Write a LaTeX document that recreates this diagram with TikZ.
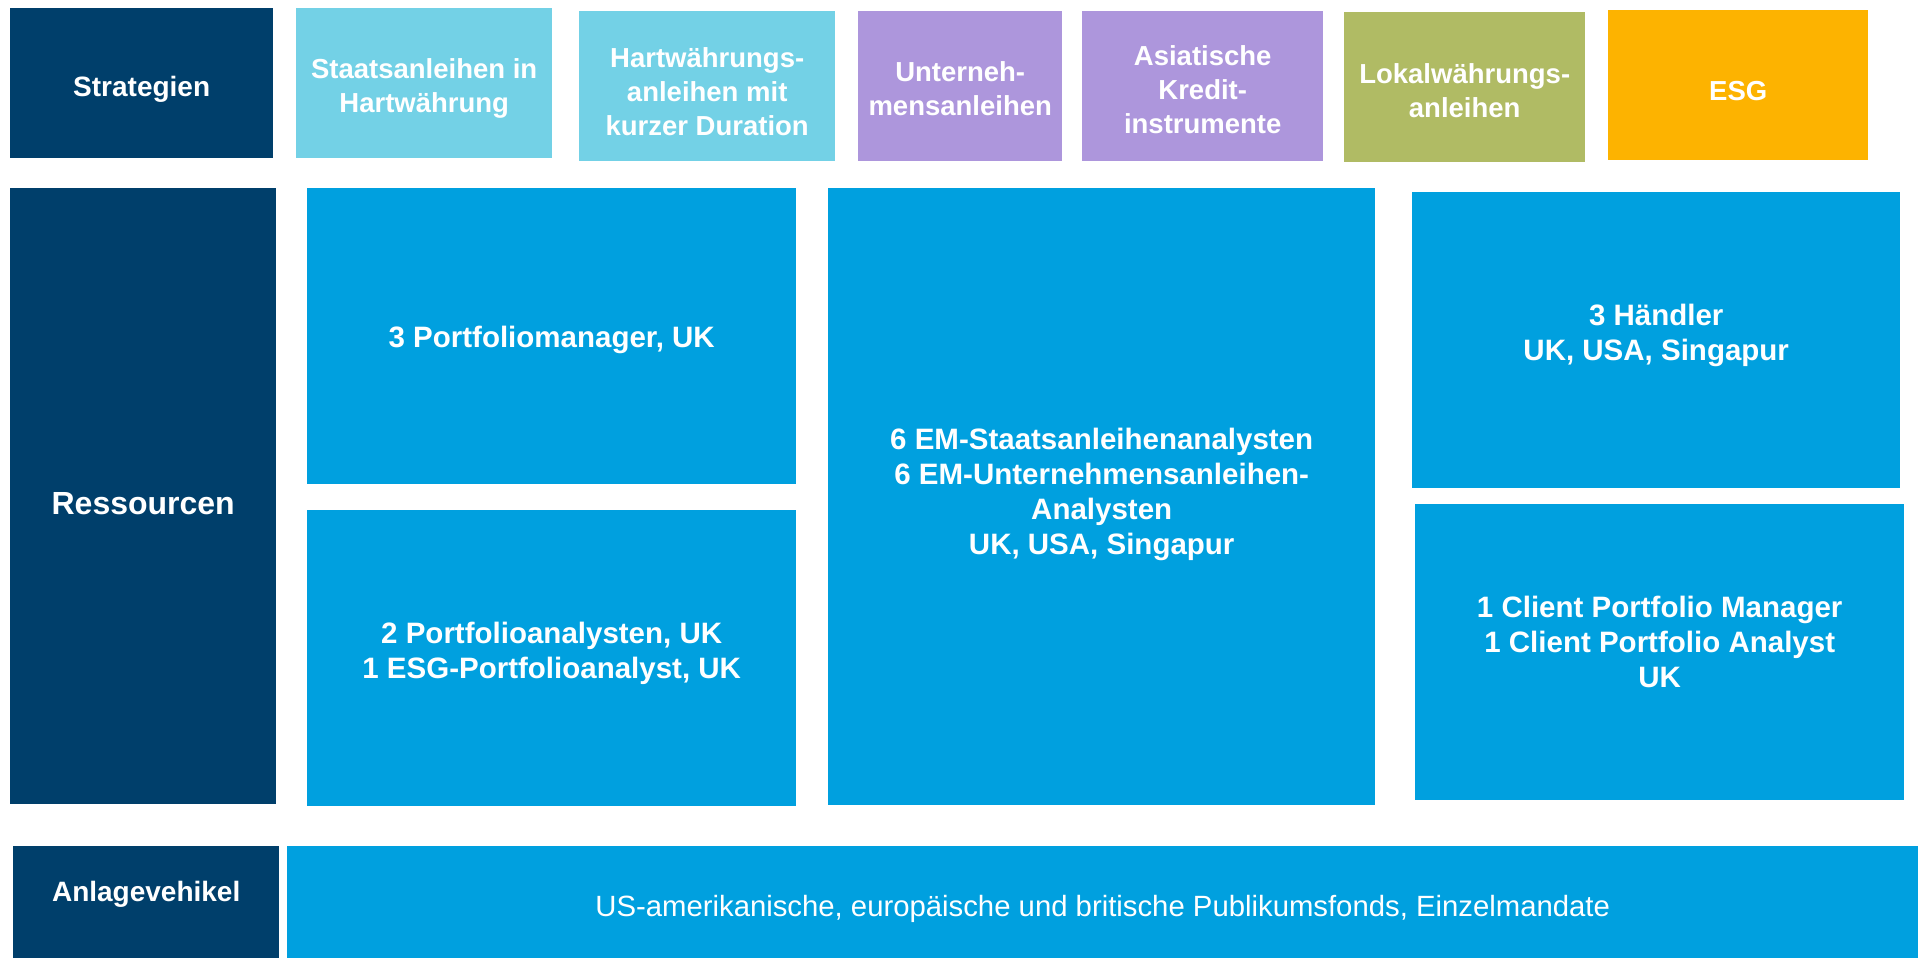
\documentclass[tikz,border=0pt]{standalone}
\usepackage{fontspec}
\setmainfont{Liberation Sans}

\definecolor{navy}{RGB}{0,63,107}
\definecolor{teamblue}{RGB}{0,160,223}
\definecolor{skyblue}{RGB}{115,209,230}
\definecolor{lilac}{RGB}{173,150,220}
\definecolor{olive}{RGB}{176,187,100}
\definecolor{amber}{RGB}{253,179,0}

\tikzset{
    tile/.style={fill=#1, text=white, anchor=north west, inner sep=0pt, align=center,
        font=\fontsize{29.5}{35}\selectfont\bfseries,
        execute at begin node={\rule{0pt}{1.15em}}},
    wh/.style 2 args={minimum width=#1, minimum height=#2}
}

\begin{document}
\begin{tikzpicture}[x=1pt, y=-1pt]
    \useasboundingbox (0, 0) rectangle (1921, 958);

    % row headers
    \node[tile=navy, wh={263pt}{150pt}, font=\fontsize{28}{35}\selectfont\bfseries] (strat) at (10, 8) {Strategien};
    \node[tile=navy, wh={266pt}{616pt}, font=\fontsize{32}{38}\selectfont\bfseries] (res) at (10, 188) {Ressourcen};
    \node[tile=navy, wh={266pt}{112pt}, font=\fontsize{28}{35}\selectfont\bfseries,
        execute at begin node={}, text depth=33pt] (veh) at (13, 846) {Anlagevehikel};

    % strategies
    \foreach \n/\x/\y/\w/\c/\h/\t in {
        s1/296/8/256/skyblue/58/{Staatsanleihen in\\Hartwährung},
        s2/579/11/256/skyblue/98/{Hartwährungs-\\anleihen mit\\kurzer Duration},
        s3/858/11/204/lilac/59/{Unterneh-\\mensanleihen},
        s4/1082/11/241/lilac/95/{Asiatische\\Kredit-\\instrumente},
        s5/1344/12/241/olive/61/{Lokalwährungs-\\anleihen},
        s6/1608/10/260/amber/30/{ESG}}
    {
        \node[tile=\c, wh={\w pt}{150pt}, font=\fontsize{27.5}{34}\selectfont\bfseries,
            execute at begin node={}, text height=\h pt, text depth=0pt] (\n) at (\x, \y) {\t};
    }

    % resources
    \node[tile=teamblue, wh={489pt}{296pt}, text depth=11pt] (pm) at (307, 188) {3 Portfoliomanager, UK};
    \node[tile=teamblue, wh={489pt}{296pt}, text depth=16pt] (pa) at (307, 510) {2 Portfolioanalysten, UK\\1 ESG-Portfolioanalyst, UK};
    \node[tile=teamblue, wh={547pt}{617pt}, text depth=10pt] (em) at (828, 188)
        {6 EM-Staatsanleihenanalysten\\6 EM-Unternehmensanleihen-\\Analysten\\UK, USA, Singapur};
    \node[tile=teamblue, wh={488pt}{296pt}, text depth=15pt] (trade) at (1412, 192) {3 Händler\\UK, USA, Singapur};
    \node[tile=teamblue, wh={489pt}{296pt}, text depth=21pt] (cpm) at (1415, 504)
        {1 Client Portfolio Manager\\1 Client Portfolio Analyst\\UK};

    % vehicles
    \node[tile=teamblue, wh={1631pt}{112pt}, font=\fontsize{29.3}{35}\selectfont] (fonds) at (287, 846)
        {US-amerikanische, europäische und britische Publikumsfonds, Einzelmandate};
\end{tikzpicture}
\end{document}
